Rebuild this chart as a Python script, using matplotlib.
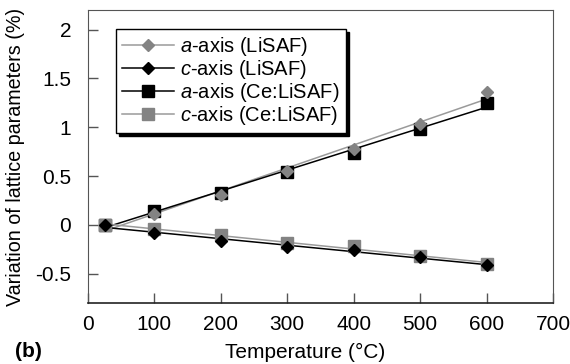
import matplotlib
matplotlib.use("Agg")
import matplotlib.pyplot as plt
import numpy as np
from matplotlib.lines import Line2D

plt.rcParams["font.family"] = ["Liberation Sans", "DejaVu Sans"]
plt.rcParams["mathtext.fontset"] = "custom"
plt.rcParams["mathtext.it"] = "Liberation Sans:italic"
plt.rcParams["mathtext.rm"] = "Liberation Sans"

# Temperatures (deg C) and lattice variation (%)
temps = np.array([25, 100, 200, 300, 400, 500, 600])
a_lisaf = [0.0, 0.11, 0.31, 0.55, 0.78, 1.03, 1.36]
c_lisaf = [0.0, -0.08, -0.17, -0.23, -0.255, -0.33, -0.41]
a_ce = [0.0, 0.14, 0.33, 0.54, 0.74, 0.98, 1.25]
c_ce = [0.0, -0.045, -0.10, -0.19, -0.215, -0.315, -0.405]

labels = ["$a$-axis (LiSAF)", "$c$-axis (LiSAF)",
          "$a$-axis (Ce:LiSAF)", "$c$-axis (Ce:LiSAF)"]

GRAY = "#838383"
series = [
    (a_lisaf, "D", GRAY, "#9a9a9a", 6.6, 4),
    (c_lisaf, "D", "black", "black", 6.6, 4),
    (a_ce, "s", "black", "black", 8.4, 3),
    (c_ce, "s", GRAY, "#9a9a9a", 8.4, 3),
]

fig = plt.figure(figsize=(5.7, 3.64), dpi=100)
ax = fig.add_axes([0.1544, 0.1676, 0.8158, 0.805])

handles = []
xfit = np.array([temps[0], temps[-1]])
for vals, marker, mcol, lcol, ms, z in series:
    # linear trend line through each series
    k, b = np.polyfit(temps, vals, 1)
    ax.plot(xfit, k * xfit + b, color=lcol, lw=1.1, zorder=2)
    ax.plot(temps, vals, ls="none", marker=marker, ms=ms, color=mcol,
            mec=mcol, zorder=z)
    handles.append(Line2D([], [], color=lcol, lw=1.1, marker=marker, ms=ms,
                          mfc=mcol, mec=mcol))

ax.set_xlim(0, 700)
ax.set_ylim(-0.8, 2.2)
ax.set_xticks(np.arange(0, 701, 100))
ax.set_yticks([-0.5, 0, 0.5, 1, 1.5, 2])
ax.set_yticklabels(["-0.5", "0", "0.5", "1", "1.5", "2"])
ax.tick_params(direction="in", length=7, width=1, colors="#555555",
               labelcolor="black", labelsize=15)
ax.tick_params(axis="y", pad=12)
ax.tick_params(axis="x", pad=9)
for side in ("top", "right", "left"):
    ax.spines[side].set_color("#555555")
ax.spines["bottom"].set_color("#222222")
ax.spines["bottom"].set_linewidth(1.2)

ax.set_xlabel("Temperature (°C)", fontsize=15)
ax.xaxis.set_label_coords(0.467, -0.135)
ax.set_ylabel("Variation of lattice parameters (%)", fontsize=14.2)
ax.yaxis.set_label_coords(-0.135, 0.5)
fig.text(0.026, 0.019, "(b)", fontsize=15, fontweight="bold")

leg = ax.legend(handles, labels, loc="upper left",
                bbox_to_anchor=(0.06, 0.935), borderaxespad=0,
                fontsize=14.5, numpoints=1,
                handlelength=2.6, handletextpad=0.3, labelspacing=0.0,
                borderpad=0.3, fancybox=False, framealpha=1,
                edgecolor="black", shadow={"color": "black", "alpha": 1})
leg.get_frame().set_linewidth(1.0)

fig.savefig("out.png", dpi=100)
